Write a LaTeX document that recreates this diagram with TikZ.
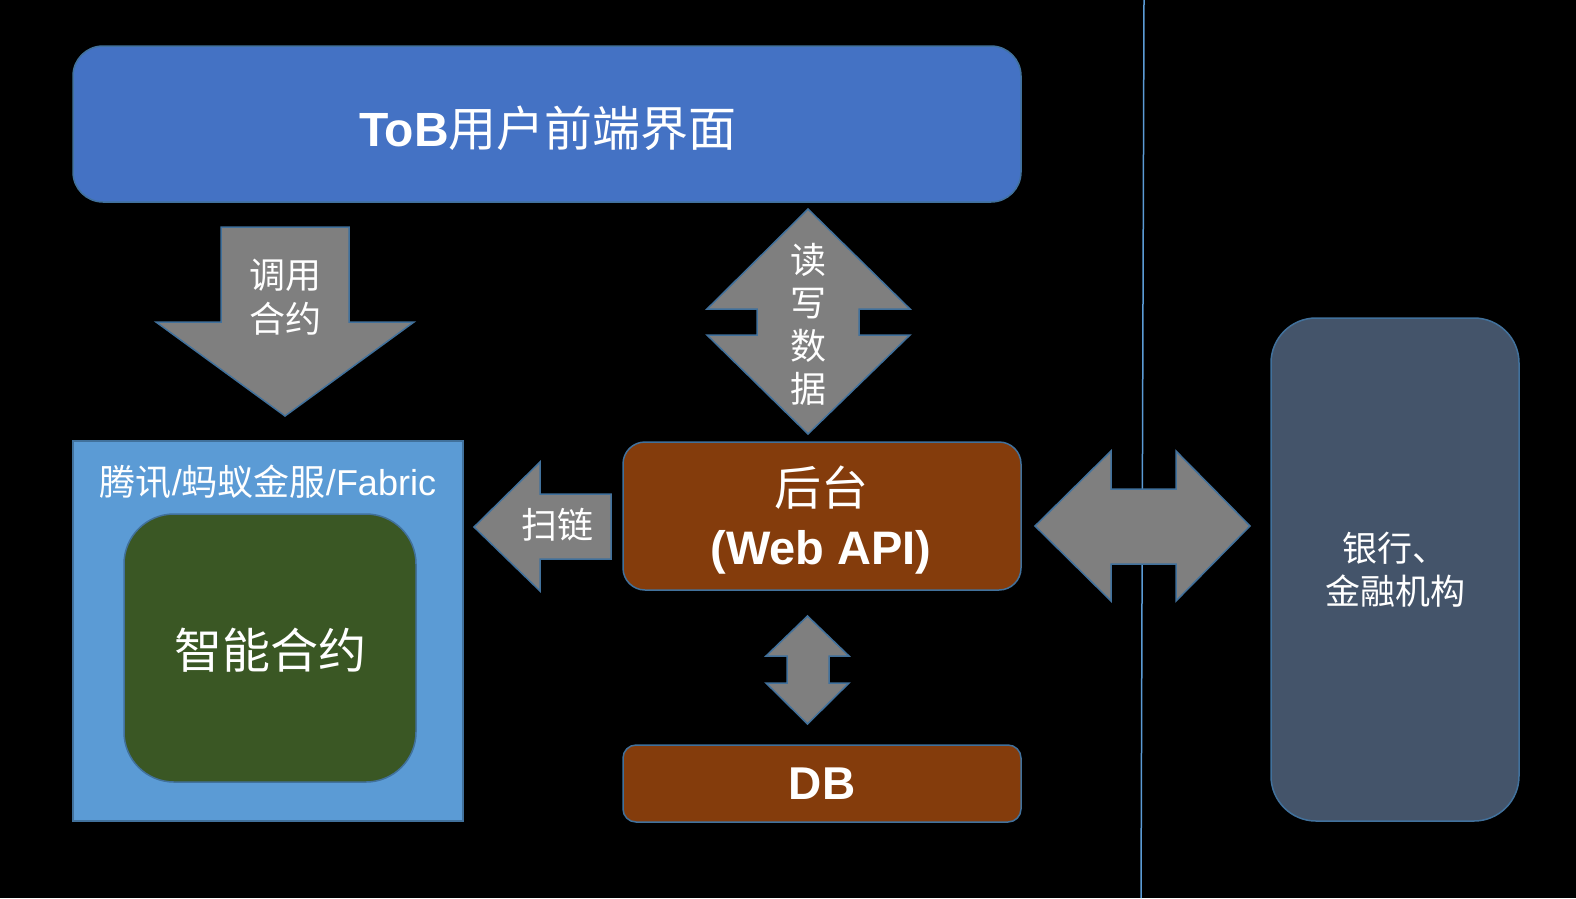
\documentclass[tikz,border=0pt]{standalone}
\usepackage{fontspec}
\setmainfont{Liberation Sans}
\newfontfamily\cjk{Noto Sans CJK SC}
\definecolor{topblue}{HTML}{4472C4}
\definecolor{lightblue}{HTML}{5B9BD5}
\definecolor{edge}{HTML}{41719C}
\definecolor{arrowgray}{HTML}{7F7F7F}
\definecolor{brown}{HTML}{843C0C}
\definecolor{darkgreen}{HTML}{3A5724}
\definecolor{slate}{HTML}{44546A}
\begin{document}
\begin{tikzpicture}[x=1pt,y=-1pt,
  box/.style={draw=edge, line width=1.5pt, inner sep=0pt, text=white, align=center},
  blockarrow/.style={fill=arrowgray, draw=edge, line width=1.5pt, line join=miter},
  lbl/.style={text=white, align=center, inner sep=0pt},
  midtext/.style={font=\cjk\fontsize{36}{44}\selectfont},
]
\fill[black] (0,0) rectangle (1576,898);
\useasboundingbox (0,0) rectangle (1576,898);

% separator line
\coordinate (sepTop) at (1144,0);
\coordinate (sepBot) at (1141,898);
\draw[lightblue, line width=1.5pt] (sepTop) -- (sepBot);

% top box
\node[box, fill=topblue, rounded corners=30pt, minimum width=948pt, minimum height=156pt] (tob) at (547,124) {};
\node[lbl, font=\fontsize{48}{56}\selectfont] (toblbl) at (548,128) {{\bfseries ToB}{\cjk 用户前端界面}};

% platform box
\node[box, fill=lightblue, minimum width=390pt, minimum height=380pt] (plat) at (268,631) {};
\node[lbl, font=\fontsize{36}{44}\selectfont] (platlbl) at (268,482) {{\cjk 腾讯}/{\cjk 蚂蚁金服}/Fabric};
\node[box, fill=darkgreen, rounded corners=50pt, minimum width=292pt, minimum height=268pt] (sc) at (270,648) {};
\node[lbl, font=\cjk\fontsize{48}{56}\selectfont] (sclbl) at (270,650) {智能合约};

% backend
\node[box, fill=brown, rounded corners=22pt, minimum width=398pt, minimum height=148pt] (api) at (822,516) {};
\node[lbl, font=\fontsize{47}{59}\selectfont] (apilbl) at (821,520) {{\cjk 后台}\\{\bfseries (Web API)}};

% DB
\node[box, fill=brown, rounded corners=13pt, minimum width=398pt, minimum height=77pt,
  font=\fontsize{46}{56}\selectfont\bfseries] (db) at (822,783.5) {DB};

% bank
\node[box, fill=slate, rounded corners=45pt, minimum width=248pt, minimum height=503pt,
  font=\cjk\fontsize{35}{43}\selectfont] (bank) at (1395,569.5) {银行、\\金融机构};

% arrow: 调用合约
\draw[blockarrow] (221,227) -- (349,227) -- (349,322) -- (414,322) -- (285,416) -- (156,322) -- (221,322) -- cycle;
\node[lbl, midtext] (call) at (285,297) {调用\\合约};

% arrow: 读写数据
\draw[blockarrow] (808,209) -- (910,309) -- (859,309) -- (859,335) -- (910,335) -- (808,434) -- (707,335) -- (757,335) -- (757,309) -- (707,309) -- cycle;
\node[lbl, font=\cjk\fontsize{36}{43}\selectfont] (rw) at (808,324) {读\\写\\数\\据};

% arrow: 扫链
\draw[blockarrow] (474,527) -- (540,462) -- (540,494) -- (611,494) -- (611,559) -- (540,559) -- (540,591) -- cycle;
\node[lbl, midtext] (scan) at (557,525) {扫链};

% arrow: api <-> db
\draw[blockarrow] (807.5,616) -- (849,656) -- (829,656) -- (829,683) -- (849,683) -- (807.5,724) -- (766,683) -- (787,683) -- (787,656) -- (766,656) -- cycle;

% arrow: api <-> bank
\draw[blockarrow] (1035,526) -- (1111,451) -- (1111,489) -- (1176,489) -- (1176,451) -- (1250,526) -- (1176,601) -- (1176,564) -- (1111,564) -- (1111,601) -- cycle;
\end{tikzpicture}
\end{document}
